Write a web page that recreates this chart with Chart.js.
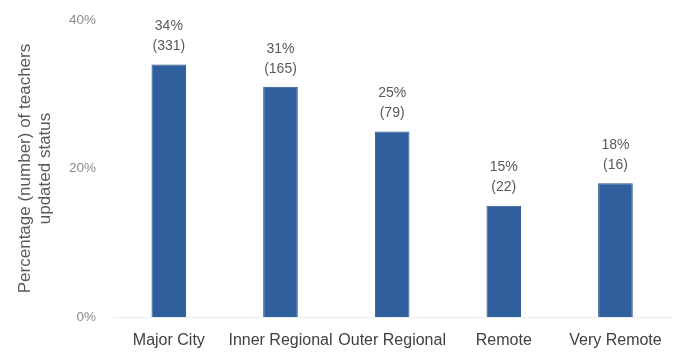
<!DOCTYPE html>
<html>
<head>
<meta charset="utf-8">
<script src="https://cdn.jsdelivr.net/npm/chart.js@4"></script>
<style>
  html, body { margin: 0; padding: 0; background: #ffffff; }
  #wrap { width: 676px; height: 354px; position: relative; }
</style>
</head>
<body>
<div id="wrap"><canvas id="chart" width="676" height="354"></canvas></div>
<script>
// Share of teachers who updated their status, by remoteness area
const categories = ['Major City', 'Inner Regional', 'Outer Regional', 'Remote', 'Very Remote'];
const percentValues = [34, 31, 25, 15, 18];
const teacherCounts = [331, 165, 79, 22, 16];
const yTicks = [0, 20, 40];

const FONT = '"Liberation Sans", Arial, sans-serif';

// Two-line value labels above each bar: percentage, then count in brackets
const barLabels = {
  id: 'barLabels',
  afterDatasetsDraw(chart) {
    const ctx = chart.ctx;
    const meta = chart.getDatasetMeta(0);
    ctx.save();
    ctx.fillStyle = '#595959';
    ctx.font = '14px ' + FONT;
    ctx.textAlign = 'center';
    ctx.textBaseline = 'middle';
    meta.data.forEach((bar, i) => {
      ctx.fillText(percentValues[i] + '%', bar.x, bar.y - 38);
      ctx.fillText('(' + teacherCounts[i] + ')', bar.x, bar.y - 18);
    });
    ctx.restore();
  }
};

new Chart(document.getElementById('chart'), {
  type: 'bar',
  data: {
    labels: categories,
    datasets: [{
      data: percentValues,
      backgroundColor: '#2f5f9d',
      borderColor: '#284f88',
      borderWidth: 1,
      categoryPercentage: 1,
      barPercentage: 0.31
    }]
  },
  options: {
    responsive: false,
    animation: false,
    layout: { padding: { left: 15, right: 3, top: 20, bottom: 0 } },
    plugins: {
      legend: { display: false },
      tooltip: { enabled: false }
    },
    scales: {
      x: {
        afterFit(axis) { axis.height = 37; },
        grid: { display: false, drawTicks: false },
        border: { display: true, color: '#ececec' },
        ticks: {
          color: '#404040',
          font: { family: FONT, size: 16 },
          padding: 14,
          maxRotation: 0,
          autoSkip: false
        }
      },
      y: {
        min: 0,
        max: 40,
        afterBuildTicks(axis) { axis.ticks = yTicks.map(v => ({ value: v })); },
        afterFit(axis) {
          axis.width = 98;
          axis.paddingTop = 0;
          axis.paddingBottom = 0;
        },
        grid: { display: false, drawTicks: false },
        border: { display: false },
        ticks: {
          color: '#8a8a8a',
          font: { family: FONT, size: 13.5 },
          padding: 17,
          callback: v => v + '%'
        },
        title: {
          display: true,
          text: ['Percentage (number) of teachers', 'updated status'],
          color: '#595959',
          font: { family: FONT, size: 17 },
          padding: { top: 0, bottom: 0 }
        }
      }
    }
  },
  plugins: [barLabels]
});
</script>
</body>
</html>
